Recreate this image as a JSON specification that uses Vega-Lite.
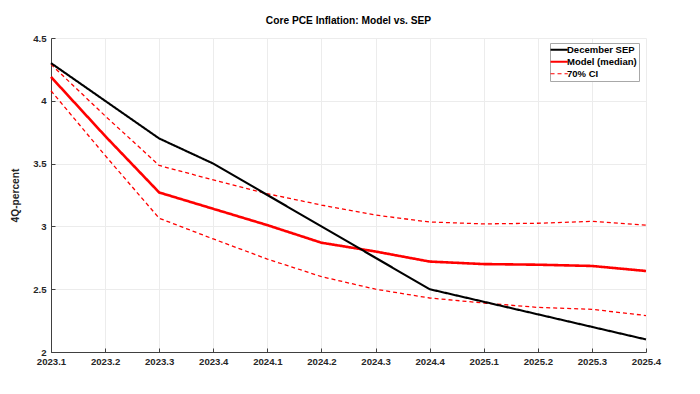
{
  "$schema": "https://vega.github.io/schema/vega-lite/v6.json",
  "width": 595,
  "height": 314,
  "autosize": {"type": "none"},
  "padding": {"left": 51, "top": 38, "right": 54, "bottom": 42},
  "background": "white",
  "title": {"text": "Core PCE Inflation: Model vs. SEP", "font": "Liberation Sans", "fontSize": 10.2, "fontWeight": "bold", "color": "#000000", "anchor": "middle", "offset": 7},
  "config": {
    "view": {"stroke": null},
    "axis": {
      "labelFont": "Liberation Sans", "labelFontSize": 9.6, "labelFontWeight": "bold", "labelColor": "#262626",
      "titleFont": "Liberation Sans", "titleFontSize": 10.2, "titleFontWeight": "bold", "titleColor": "#262626",
      "domainColor": "#404040", "tickColor": "#404040", "gridColor": "#ececec", "gridWidth": 1,
      "tickSize": -4, "domainWidth": 1
    },
    "legend": {
      "labelFont": "Liberation Sans", "labelFontSize": 9.5, "labelFontWeight": "bold", "labelColor": "#000000"
    }
  },
  "data": {
    "values": [
      {"q": "2023.1", "series": "December SEP", "band": "main", "value": 4.3},
      {"q": "2023.2", "series": "December SEP", "band": "main", "value": 4.0},
      {"q": "2023.3", "series": "December SEP", "band": "main", "value": 3.7},
      {"q": "2023.4", "series": "December SEP", "band": "main", "value": 3.5},
      {"q": "2024.1", "series": "December SEP", "band": "main", "value": 3.25},
      {"q": "2024.2", "series": "December SEP", "band": "main", "value": 3.0},
      {"q": "2024.3", "series": "December SEP", "band": "main", "value": 2.75},
      {"q": "2024.4", "series": "December SEP", "band": "main", "value": 2.5},
      {"q": "2025.1", "series": "December SEP", "band": "main", "value": 2.4},
      {"q": "2025.2", "series": "December SEP", "band": "main", "value": 2.3},
      {"q": "2025.3", "series": "December SEP", "band": "main", "value": 2.2},
      {"q": "2025.4", "series": "December SEP", "band": "main", "value": 2.1},
      {"q": "2023.1", "series": "Model (median)", "band": "main", "value": 4.19},
      {"q": "2023.2", "series": "Model (median)", "band": "main", "value": 3.72},
      {"q": "2023.3", "series": "Model (median)", "band": "main", "value": 3.27},
      {"q": "2023.4", "series": "Model (median)", "band": "main", "value": 3.14},
      {"q": "2024.1", "series": "Model (median)", "band": "main", "value": 3.01},
      {"q": "2024.2", "series": "Model (median)", "band": "main", "value": 2.87},
      {"q": "2024.3", "series": "Model (median)", "band": "main", "value": 2.8},
      {"q": "2024.4", "series": "Model (median)", "band": "main", "value": 2.72},
      {"q": "2025.1", "series": "Model (median)", "band": "main", "value": 2.7},
      {"q": "2025.2", "series": "Model (median)", "band": "main", "value": 2.695},
      {"q": "2025.3", "series": "Model (median)", "band": "main", "value": 2.685},
      {"q": "2025.4", "series": "Model (median)", "band": "main", "value": 2.645},
      {"q": "2023.1", "series": "70% CI", "band": "upper", "value": 4.29},
      {"q": "2023.2", "series": "70% CI", "band": "upper", "value": 3.88},
      {"q": "2023.3", "series": "70% CI", "band": "upper", "value": 3.485},
      {"q": "2023.4", "series": "70% CI", "band": "upper", "value": 3.37},
      {"q": "2024.1", "series": "70% CI", "band": "upper", "value": 3.26},
      {"q": "2024.2", "series": "70% CI", "band": "upper", "value": 3.17},
      {"q": "2024.3", "series": "70% CI", "band": "upper", "value": 3.09},
      {"q": "2024.4", "series": "70% CI", "band": "upper", "value": 3.035},
      {"q": "2025.1", "series": "70% CI", "band": "upper", "value": 3.02},
      {"q": "2025.2", "series": "70% CI", "band": "upper", "value": 3.025},
      {"q": "2025.3", "series": "70% CI", "band": "upper", "value": 3.04},
      {"q": "2025.4", "series": "70% CI", "band": "upper", "value": 3.01},
      {"q": "2023.1", "series": "70% CI", "band": "lower", "value": 4.08},
      {"q": "2023.2", "series": "70% CI", "band": "lower", "value": 3.565},
      {"q": "2023.3", "series": "70% CI", "band": "lower", "value": 3.065},
      {"q": "2023.4", "series": "70% CI", "band": "lower", "value": 2.9},
      {"q": "2024.1", "series": "70% CI", "band": "lower", "value": 2.74},
      {"q": "2024.2", "series": "70% CI", "band": "lower", "value": 2.6},
      {"q": "2024.3", "series": "70% CI", "band": "lower", "value": 2.5},
      {"q": "2024.4", "series": "70% CI", "band": "lower", "value": 2.43},
      {"q": "2025.1", "series": "70% CI", "band": "lower", "value": 2.39},
      {"q": "2025.2", "series": "70% CI", "band": "lower", "value": 2.355},
      {"q": "2025.3", "series": "70% CI", "band": "lower", "value": 2.34},
      {"q": "2025.4", "series": "70% CI", "band": "lower", "value": 2.29}
    ]
  },
  "encoding": {
    "x": {
      "field": "q", "type": "ordinal",
      "scale": {"type": "point", "padding": 0},
      "axis": {"title": null, "labelAngle": 0, "grid": true, "labelPadding": 8}
    },
    "y": {
      "field": "value", "type": "quantitative",
      "scale": {"domain": [2, 4.5], "nice": false, "zero": false},
      "axis": {"title": "4Q-percent", "values": [2, 2.5, 3, 3.5, 4, 4.5], "format": "~g", "grid": true, "labelPadding": 9, "titlePadding": 12}
    },
    "color": {
      "field": "series", "type": "nominal",
      "scale": {"domain": ["December SEP", "Model (median)", "70% CI"], "range": ["#000000", "#ff0000", "#ff0000"]},
      "legend": {
        "title": null, "orient": "none", "legendX": 499, "legendY": 5,
        "strokeColor": "#a8a8a8", "fillColor": "#ffffff", "padding": 2,
        "symbolType": "M-1.13,0H2.0", "symbolSize": 121, "symbolStrokeWidth": 2,
        "labelOffset": 5.5, "rowPadding": 1,
        "encode": {"symbols": {"update": {"strokeWidth": {"signal": "datum.label == '70% CI' ? 1.2 : 2.2"}}}}
      }
    },
    "strokeDash": {
      "field": "series", "type": "nominal",
      "scale": {"domain": ["December SEP", "Model (median)", "70% CI"], "range": [[1, 0], [1, 0], [4, 3]]}
    },
    "detail": {"field": "band", "type": "nominal"}
  },
  "layer": [
    {
      "transform": [{"filter": "datum.series == '70% CI'"}],
      "mark": {"type": "line", "strokeWidth": 1.3, "strokeJoin": "round"}
    },
    {
      "transform": [{"filter": "datum.series == 'Model (median)'"}],
      "mark": {"type": "line", "strokeWidth": 2.6, "strokeJoin": "round"}
    },
    {
      "transform": [{"filter": "datum.series == 'December SEP'"}],
      "mark": {"type": "line", "strokeWidth": 2.1, "strokeJoin": "round"}
    }
  ]
}
